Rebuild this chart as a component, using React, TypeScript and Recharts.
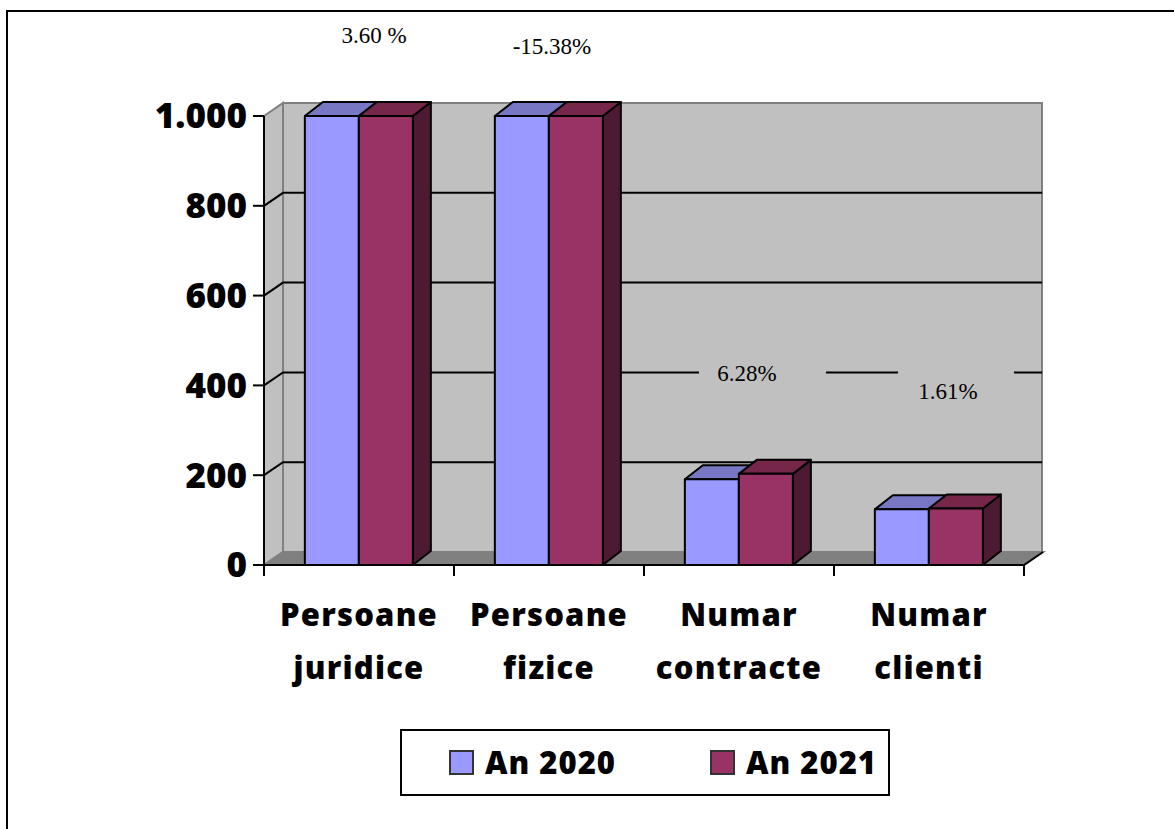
import { BarChart, Bar, XAxis, YAxis, ReferenceArea, Legend } from "recharts";

// categories (two-line labels) and yearly values
const categories = ["Persoane\njuridice", "Persoane\nfizice", "Numar\ncontracte", "Numar\nclienti"];
const an2020 = [1250, 1300, 191, 124];
const an2021 = [1295, 1100, 203, 126];
const changeLabels = ["3.60 %", "-15.38%", "6.28%", "1.61%"];
const yTicks = [0, 200, 400, 600, 800, 1000];
const Y_MAX = 1000;

const data = categories.map((name, i) => ({ name, a: an2020[i], b: an2021[i] }));

// look
const FONT = "'Open Sans', 'Liberation Sans', sans-serif";
const SERIF = "'Liberation Serif', 'Times New Roman', serif";
const WALL = "#c0c0c0";
const FLOOR = "#808080";
const WX = 19; // wall depth offset
const WY = -13;
const BX = 18; // bar depth offset
const BY = -14;

// change-label placement: offset from category center, baseline y, optional box (left offset, width)
const labelPlace = [
  { dx: 15, y: 43, box: null },
  { dx: 3, y: 54, box: null },
  { dx: 8, y: 381, box: [-48, 127] },
  { dx: 19, y: 399, box: [-50, 116] },
];

const fmt = (v: number) =>
  v >= 1000 ? `${Math.floor(v / 1000)}.${String(v % 1000).padStart(3, "0")}` : String(v);

function Bar3D(props: any) {
  const { x, y, width: w, height: h, fill, top, side } = props;
  if (h == null || w == null) return null;
  const st = { stroke: "#000", strokeWidth: 2, strokeLinejoin: "round" as const };
  return (
    <g>
      <polygon
        points={`${x + w},${y} ${x + w + BX},${y + BY} ${x + w + BX},${y + h + BY} ${x + w},${y + h}`}
        fill={side}
        {...st}
      />
      <polygon
        points={`${x},${y} ${x + BX},${y + BY} ${x + w + BX},${y + BY} ${x + w},${y}`}
        fill={top}
        {...st}
      />
      <rect x={x} y={y} width={w} height={h} fill={fill} {...st} />
    </g>
  );
}

function Walls(props: any) {
  const { x, y, width: w, height: h } = props;
  if (w == null) return null;
  const n = categories.length;
  const yb = y + h;
  return (
    <g>
      <rect x={x + WX} y={y + WY} width={w - 1} height={h} fill={WALL} stroke="#808080" strokeWidth={2} />
      <polygon
        points={`${x},${y} ${x + WX},${y + WY} ${x + WX},${yb + WY} ${x},${yb}`}
        fill={WALL}
        stroke="#808080"
        strokeWidth={2}
      />
      <polygon
        points={`${x},${yb} ${x + WX},${yb + WY} ${x + w + WX},${yb + WY} ${x + w},${yb}`}
        fill={FLOOR}
        stroke="#808080"
        strokeWidth={2}
      />
      <line x1={x + w} y1={yb} x2={x + w + WX} y2={yb + WY} stroke="#000" strokeWidth={2} />
      {yTicks
        .filter((v) => v > 0 && v < Y_MAX)
        .map((v) => {
          const yy = y + h * (1 - v / Y_MAX);
          return (
            <polyline
              key={v}
              points={`${x},${yy} ${x + WX},${yy + WY} ${x + w + WX - 1},${yy + WY}`}
              fill="none"
              stroke="#000"
              strokeWidth={2}
            />
          );
        })}
      {Array.from({ length: n + 1 }, (_, i) => {
        const xx = x + (w * i) / n;
        return <line key={i} x1={xx} y1={yb} x2={xx} y2={yb + 11} stroke="#000" strokeWidth={2} />;
      })}
      {changeLabels.map((t, i) => {
        const p = labelPlace[i];
        const cx = x + (w * (i + 0.5)) / n + p.dx;
        return (
          <g key={t}>
            {p.box && <rect x={cx + p.box[0]} y={p.y - 34} width={p.box[1]} height={70} fill={WALL} />}
            <text x={cx} y={p.y} textAnchor="middle" fontFamily={SERIF} fontSize={23} fill="#000">
              {t}
            </text>
          </g>
        );
      })}
    </g>
  );
}

function CatTick(props: any) {
  const { x, y, payload } = props;
  const [l1, l2] = String(payload.value).split("\n");
  return (
    <text
      textAnchor="middle"
      fontFamily={FONT}
      fontWeight={800}
      fontSize={31}
      letterSpacing={1.2}
      fill="#000"
    >
      <tspan x={x} y={y + 61}>
        {l1}
      </tspan>
      <tspan x={x} y={y + 114}>
        {l2}
      </tspan>
    </text>
  );
}

function LegendBox(props: any) {
  const items = props.payload || [];
  return (
    <div
      style={{
        boxSizing: "border-box",
        width: 490,
        height: 67,
        border: "2px solid #000",
        background: "#fff",
        display: "flex",
        alignItems: "center",
        paddingLeft: 47,
        fontFamily: FONT,
        fontWeight: 800,
        fontSize: 31,
        letterSpacing: 1,
        color: "#000",
      }}
    >
      {items.map((it: any, i: number) => (
        <div key={i} style={{ display: "flex", alignItems: "center", marginRight: i === 0 ? 94 : 0 }}>
          <span
            style={{
              display: "inline-block",
              boxSizing: "border-box",
              width: 25,
              height: 25,
              background: it.color,
              border: "2px solid #333",
              marginRight: 11,
            }}
          />
          <span style={{ lineHeight: "31px" }}>{it.value}</span>
        </div>
      ))}
    </div>
  );
}

export default function App() {
  return (
    <div
      style={{
        position: "absolute",
        left: 0,
        top: 0,
        width: 1174,
        height: 829,
        overflow: "hidden",
        background: "#fff",
      }}
    >
      <div
        style={{
          position: "absolute",
          left: 6,
          top: 10,
          width: 1400,
          height: 1000,
          border: "2px solid #000",
        }}
      />
      <div style={{ position: "absolute", left: 0, top: 0 }}>
        <BarChart
          width={1174}
          height={829}
          data={data}
          margin={{ top: 116, right: 150, bottom: 134, left: 154 }}
          barCategoryGap="21.5%"
          barGap={0}
        >
          <ReferenceArea y1={0} y2={Y_MAX} shape={(p: any) => <Walls {...p} />} ifOverflow="visible" />
          <XAxis
            dataKey="name"
            height={130}
            axisLine={{ stroke: "#000", strokeWidth: 2 }}
            tickLine={false}
            tickSize={0}
            tickMargin={0}
            interval={0}
            tick={<CatTick />}
          />
          <YAxis
            width={110}
            domain={[0, Y_MAX]}
            ticks={yTicks}
            interval={0}
            tickFormatter={fmt}
            axisLine={{ stroke: "#000", strokeWidth: 2 }}
            tickLine={{ stroke: "#000", strokeWidth: 2 }}
            tickSize={11}
            tickMargin={6}
            tick={{ fill: "#000", fontSize: 35, fontWeight: 800, fontFamily: FONT }}
          />
          <Legend
            layout="vertical"
            align="center"
            verticalAlign="middle"
            wrapperStyle={{ left: 400, top: 729, width: 490 }}
            content={<LegendBox />}
          />
          <Bar
            dataKey={(d: any) => Math.min(d.a, Y_MAX)}
            name="An 2020"
            fill="#9999ff"
            isAnimationActive={false}
            shape={(p: any) => <Bar3D {...p} top="#7777c4" side="#4d4d80" />}
          />
          <Bar
            dataKey={(d: any) => Math.min(d.b, Y_MAX)}
            name="An 2021"
            fill="#993366"
            isAnimationActive={false}
            shape={(p: any) => <Bar3D {...p} top="#752649" side="#4c1a33" />}
          />
        </BarChart>
      </div>
    </div>
  );
}
